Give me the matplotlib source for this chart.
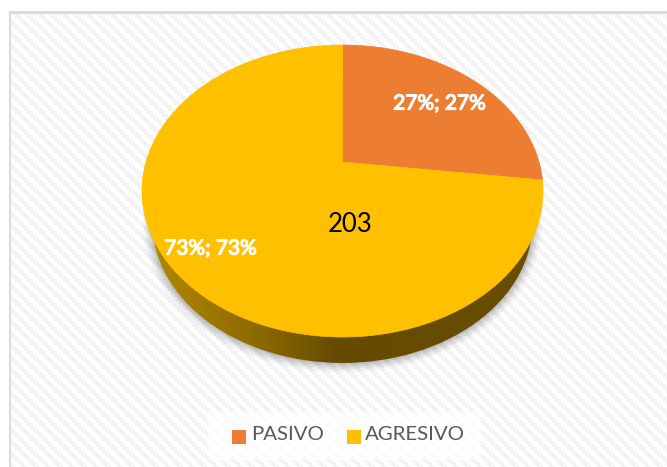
import numpy as np
from matplotlib import pyplot as plt
from matplotlib import patheffects as pe
from matplotlib.patches import Ellipse, Rectangle
from matplotlib.colors import LinearSegmentedColormap

# Data
labels = ['PASIVO', 'AGRESIVO']
values = [27, 73]
slice_labels = ['27%; 27%', '73%; 73%']
center_label = '203'
colors = ['#ED7D31', '#FFC000']

# Pie geometry in pixels, tilted with a perspective projection
cx, cy = 342.5, 191.0
rx, ry = 200.5, 146.0
apex_up = 29.0
k = apex_up / ry
a = rx * np.sqrt(1 - k ** 2)

# The base of the pie is a smaller ellipse further down
base_cy, base_rx, base_ry = 223.0, 190.0, 140.0


def project(theta):
    # theta is clockwise from the top of the pie
    x = np.sin(theta)
    y = np.cos(theta)
    w = 1 + k * y
    return cx + a * x / w, cy - (ry * y + apex_up) / w


fig = plt.figure(figsize=(6.67, 4.67), dpi=100)
ax = fig.add_axes([0, 0, 1, 1])

# Stepped diagonal background
yy, xx = np.mgrid[0:467, 0:667]
tile = (((xx // 3) * 3 - (yy // 3) * 3) % 12) < 6
bg = np.where(tile, 0.955, 1.0)
bg[yy < 12] = 1.0
bg[xx < 10] = 1.0
bg[(yy >= 11) & (yy < 14) & (xx >= 9)] = 0.86
bg[(xx >= 9) & (xx < 11) & (yy >= 11)] = 0.86
ax.imshow(bg, cmap='gray', vmin=0, vmax=1, extent=(0, 667, 467, 0),
          interpolation='nearest', aspect='auto', zorder=0)

# Soft shadow round the base
for grow, al in zip([10, 8, 6, 4, 2], [0.025, 0.035, 0.05, 0.06, 0.08]):
    ax.add_patch(Ellipse((cx, base_cy), 2 * (base_rx + grow), 2 * (base_ry + grow),
                         fc='black', ec='none', alpha=al, zorder=1))

# Side wall with a shaded gradient
cmap = LinearSegmentedColormap.from_list('side', [
    (0.0, '#B48A00'), (0.13, '#A47C00'), (0.30, '#8A6800'),
    (0.42, '#735600'), (0.48, '#654B00'), (1.0, '#694E00')])
grad = np.linspace(0, 1, 500).reshape(1, -1)
side = ax.imshow(grad, cmap=cmap, extent=(142, 543, 370, 190),
                 aspect='auto', zorder=2)
base = Ellipse((cx, base_cy), 2 * base_rx, 2 * base_ry, fc='none', ec='none',
               transform=ax.transData)
ax.add_patch(base)
side.set_clip_path(base)

# Slices
start = 0.0
total = sum(values)
for val, col in zip(values, colors):
    sweep = 2 * np.pi * val / total
    t = np.linspace(start, start + sweep, 300)
    px, py = project(t)
    ax.fill(np.r_[cx, px], np.r_[cy - apex_up, py], color=col, lw=0.5, zorder=3)
    start += sweep

# Data labels, the stroke thickens the Lato regular to a bold look
bold = [pe.withStroke(linewidth=0.9, foreground='white')]
ax.text(439.5, 103.5, slice_labels[0], color='white', fontsize=15, family='Lato',
        ha='center', va='center', zorder=5, path_effects=bold)
ax.text(210.5, 248.5, slice_labels[1], color='white', fontsize=15, family='Lato',
        ha='center', va='center', zorder=5, path_effects=bold)
ax.text(350.5, 224.5, center_label, color='black', fontsize=18.5,
        family='Lato', ha='center', va='center', zorder=5)

# Legend
ax.add_patch(Rectangle((208, 412), 273, 48, fc='white', ec='none', alpha=0.75, zorder=3))
swatch_x = [232, 347]
text_x = [251, 365]
for sx, tx, lab, col in zip(swatch_x, text_x, labels, colors):
    ax.add_patch(Rectangle((sx, 430), 13.5, 13.5, fc=col, ec='none', zorder=4))
    ax.text(tx, 434.5, lab, color='#595959', fontsize=14.7, family='Lato',
            ha='left', va='center', zorder=5)

ax.set_xlim(0, 667)
ax.set_ylim(467, 0)
ax.axis('off')

fig.savefig('out.png', dpi=100)
